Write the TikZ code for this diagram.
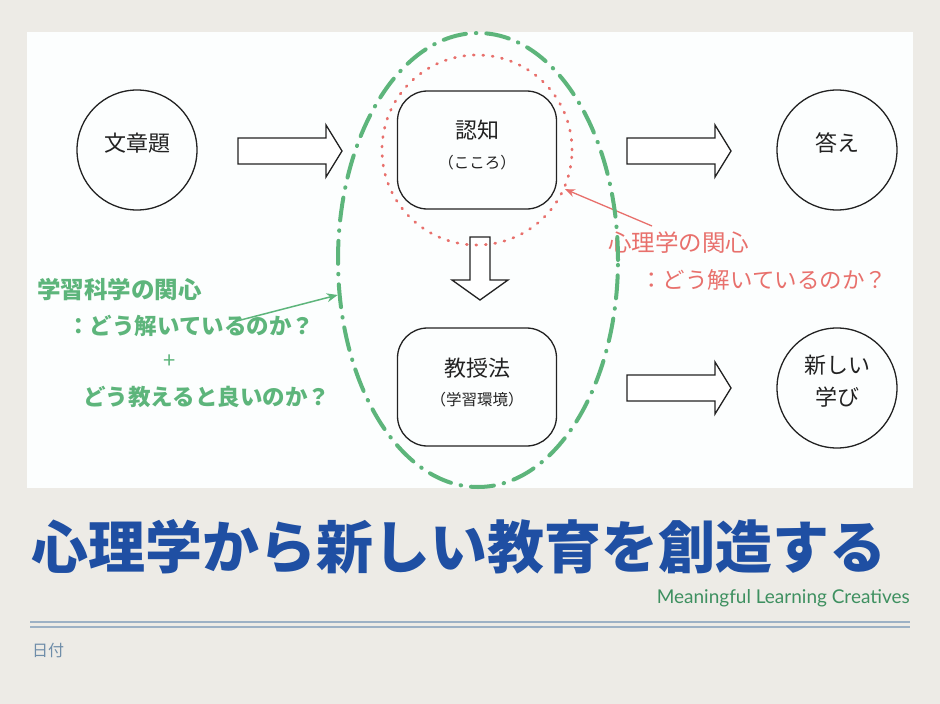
\documentclass[tikz,border=0pt]{standalone}
\usepackage{fontspec}
\newfontfamily\jp{Noto Sans CJK JP}
\newfontfamily\brandfont{Lato}
\usetikzlibrary{arrows.meta,shapes.geometric}

\definecolor{paper}{HTML}{EDEBE6}
\definecolor{panel}{HTML}{FCFEFE}
\definecolor{ink}{HTML}{222222}
\definecolor{lsgreen}{HTML}{5DB57B}
\definecolor{psyred}{HTML}{E8706C}
\definecolor{titleblue}{HTML}{1F4FA3}
\definecolor{brandgreen}{HTML}{3E9060}
\definecolor{rulecol}{HTML}{9DB1C5}
\definecolor{datecol}{HTML}{6F8DA9}

\begin{document}
\begin{tikzpicture}[x=1pt, y=-1pt, >=Stealth,
  state/.style={draw=ink, line width=1.3pt, circle, minimum size=120pt, inner sep=0pt},
  procbox/.style={draw=ink, line width=1.3pt, rounded corners=30pt, minimum width=159pt, minimum height=118pt, inner sep=0pt},
  big/.style={font=\jp\fontsize{22}{32}\selectfont, text=ink, align=center, inner sep=0pt},
  small/.style={font=\jp\fontsize{15.5}{16}\selectfont, text=ink, inner sep=0pt},
  blockarr/.style={draw=ink, line width=1.3pt, fill=white, line join=miter},
  lsnote/.style={text=lsgreen, font=\jp\bfseries\fontsize{22.5}{22}\selectfont, inner sep=0pt, anchor=west},
  psynote/.style={text=psyred, font=\jp\fontsize{22.5}{22}\selectfont, inner sep=0pt, anchor=west},
  rarrow/.pic={\draw[blockarr] (0,-13) -- (88,-13) -- (88,-26) -- (104,0) -- (88,26) -- (88,13) -- (0,13) -- cycle;},
  darrow/.pic={\draw[blockarr] (-10,0) -- (-10,43) -- (-28,43) -- (0,63) -- (28,43) -- (10,43) -- (10,0) -- cycle;}]
  \useasboundingbox (0,0) rectangle (940,704);

  % Slide background
  \fill[paper] (0,0) rectangle (940,704);
  \fill[panel] (27,32) rectangle (913,488);

  % Flow: problem -> cognition -> answer
  \node[state] (problem) at (137,150) {};
  \node[big] (problemtxt) at ([yshift=7pt]problem.center) {文章題};
  \node[procbox] (cog) at (477,150) {};
  \node[big] (cogtxt) at ([yshift=20pt]cog.center) {認知};
  \node[small] (cogsub) at ([yshift=-13pt]cog.center) {（こころ）};
  \node[state] (answer) at (837,150) {};
  \node[big] (answertxt) at ([yshift=7pt]answer.center) {答え};

  % Flow: teaching -> new learning
  \node[procbox] (teach) at (477,387) {};
  \node[big] (teachtxt) at ([yshift=19pt]teach.center) {教授法};
  \node[small] (teachsub) at ([yshift=-13pt]teach.center) {（学習環境）};
  \node[state] (learn) at (837,388) {};
  \node[big] (learntxt) at ([yshift=7pt]learn.center) {新しい\\学び};

  % Block arrows
  \pic at (238,151) {rarrow};
  \pic at (627,151) {rarrow};
  \pic at (627,388) {rarrow};
  \pic at (480,237) {darrow};

  % Interest of psychology
  \node[draw=psyred, circle, minimum size=190pt, line width=2.7pt, dash pattern=on 1pt off 8.5pt, line cap=round] (mind) at (477,150) {};
  \node[psynote, font=\jp\fontsize{23.5}{22}\selectfont] (psya) at (608,243) {心理学の関心};
  \node[psynote] (psyb) at (640,280) {：どう解いているのか？};
  \coordinate (psytail) at (652,226);
  \draw[->, psyred, line width=1.3pt, >={Stealth[length=10pt,width=8pt]}] (psytail) -- (mind.-24);

  % Interest of learning sciences
  \node[draw=lsgreen, ellipse, minimum width=280pt, minimum height=454pt, line width=4pt, dash pattern=on 23pt off 10pt on 0.5pt off 10pt, line cap=round] (field) at (478,260) {};
  \node[lsnote, font=\jp\bfseries\fontsize{23.5}{22}\selectfont] (lsa) at (37,290) {学習科学の関心};
  \node[lsnote] (lsb) at (67,326) {：どう解いているのか？};
  \node[lsnote, anchor=center, font=\jp\fontsize{22}{22}\selectfont] (lsplus) at (170,362) {+};
  \node[lsnote] (lsc) at (83,397) {どう教えると良いのか？};
  \coordinate (lstail) at (233,322);
  \draw[->, lsgreen, line width=1.5pt, >={Stealth[length=11pt,width=9pt]}] (lstail) -- (field.194);

  % Title and footer
  \node[font=\jp\bfseries\fontsize{57}{57}\selectfont, text=titleblue, inner sep=0pt] (title) at (459,547) {心理学から新しい教育を創造する};
  \node[font=\brandfont\fontsize{19}{19}\selectfont, text=brandgreen, anchor=east, inner sep=0pt] (brand) at (910,598) {Meaningful Learning Creatives};
  \draw[rulecol, line width=1.5pt] (30,622) -- (910,622);
  \draw[rulecol, line width=1.5pt] (30,627) -- (910,627);
  \node[font=\jp\fontsize{16}{16}\selectfont, text=datecol, anchor=west, inner sep=0pt] (date) at (32,650) {日付};
\end{tikzpicture}
\end{document}
